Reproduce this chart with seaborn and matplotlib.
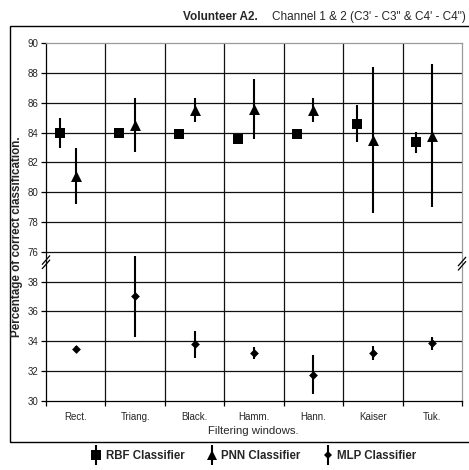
import numpy as np
import pandas as pd
import matplotlib
matplotlib.use("Agg")
import matplotlib.pyplot as plt
from matplotlib.lines import Line2D
from matplotlib.patches import Rectangle
from matplotlib.legend_handler import HandlerTuple
import seaborn as sns

# Classification accuracy (%) per filtering window, mean and half-width of the bar
windows = ["Rect.", "Triang.", "Black.", "Hamm.", "Hann.", "Kaiser", "Tuk."]
rbf_mean = [84.0, 84.0, 83.9, 83.6, 83.9, 84.6, 83.35]
rbf_err = [1.0, 0.2, 0.2, 0.2, 0.2, 1.25, 0.7]
pnn_mean = [81.1, 84.5, 85.5, 85.6, 85.5, 83.5, 83.8]
pnn_err = [1.9, 1.8, 0.8, 2.0, 0.8, 4.9, 4.8]
mlp_mean = [33.5, 37.0, 33.8, 33.2, 31.75, 33.2, 33.85]
mlp_err = [0.2, 2.7, 0.9, 0.4, 1.3, 0.5, 0.43]

y_tick_values = [30, 32, 34, 36, 38, 76, 78, 80, 82, 84, 86, 88, 90]

# Broken axis: the 76-90 band is shifted down so that 76 sits one step above 38
SHIFT = 36.0


def axis_pos(v):
    v = np.asarray(v, dtype=float)
    return np.where(v > 60, v - SHIFT, v)


W, H = 469, 470
sns.set_style("white")
plt.rcParams["font.family"] = ["Liberation Sans", "DejaVu Sans"]

fig = plt.figure(figsize=(W / 100, H / 100), dpi=100)


def fx(px):
    return px / W


def fy(py):
    return 1 - py / H


ax = fig.add_axes([fx(46), fy(400.7), fx(462) - fx(46), (400.7 - 43.3) / H])

x = np.arange(len(windows), dtype=float)
rbf_offset = -0.27

series = [
    ("RBF", x + rbf_offset, rbf_mean, rbf_err, "s", 44),
    ("PNN", x, pnn_mean, pnn_err, "^", 62),
    ("MLP", x, mlp_mean, mlp_err, "D", 20),
]

for name, xs, mean, err, marker, size in series:
    mean = np.asarray(mean)
    err = np.asarray(err)
    lo = axis_pos(mean - err)
    hi = axis_pos(mean + err)
    ax.vlines(xs, lo, hi, color="black", linewidth=1.5, zorder=3)
    df = pd.DataFrame({"x": xs, "y": axis_pos(mean), "classifier": name})
    sns.scatterplot(data=df, x="x", y="y", marker=marker, s=size, color="black",
                    edgecolor="black", linewidth=0, ax=ax, zorder=4, legend=False)

ax.set_xlim(-0.5, len(windows) - 0.5)
ax.set_ylim(30, 54)

# y ticks and horizontal grid
ax.set_yticks(axis_pos(y_tick_values))
ax.set_yticklabels([str(v) for v in y_tick_values])
for yv in axis_pos(y_tick_values)[1:-1]:
    ax.axhline(yv, color="#111111", linewidth=0.9, zorder=1)

# x ticks at category boundaries, labels at category centres
bounds = np.arange(-0.5, len(windows), 1.0)
ax.set_xticks(bounds)
ax.set_xticklabels([])
ax.set_xticks(x, minor=True)
ax.set_xticklabels(windows, minor=True)
for bx in bounds[1:-1]:
    ax.axvline(bx, color="#111111", linewidth=0.9, zorder=1)

ax.tick_params(axis="both", which="major", direction="out", length=3.5, width=0.9,
               color="black", labelsize=7, pad=2, left=True, bottom=True)
ax.tick_params(axis="x", which="minor", length=0, labelsize=7, pad=8)
ax.set_xlabel("")
ax.set_ylabel("")

for side in ["left", "bottom"]:
    ax.spines[side].set_color("black")
    ax.spines[side].set_linewidth(0.9)
for side in ["top", "right"]:
    ax.spines[side].set_color("#9a9a9a")
    ax.spines[side].set_linewidth(0.9)

# break marks on both vertical axes
for xa, ya in [(0.0, 39.3), (1.0, 39.2)]:
    ax_x, ax_y = xa, (ya - 30) / 24
    for dy in (-0.006, 0.006):
        ax.plot([ax_x - 0.009, ax_x + 0.009], [ax_y + dy - 0.012, ax_y + dy + 0.012],
                transform=ax.transAxes, color="black", linewidth=0.9,
                clip_on=False, zorder=5)

# outer chart frame
fig.patches.append(Rectangle((fx(9.5), fy(441.5)), fx(480) - fx(9.5), (441.5 - 26) / H,
                             transform=fig.transFigure, fill=False,
                             edgecolor="black", linewidth=1.0))

# titles and axis labels
fig.text(fx(183), fy(20), "Volunteer A2.", fontsize=8.5, fontweight="bold",
         ha="left", va="baseline")
fig.text(fx(272), fy(20), "Channel 1 & 2 (C3' - C3\" & C4' - C4\")", fontsize=8.5,
         ha="left", va="baseline")
fig.text(fx(17.5), fy(237), "Percentage of correct classification.", fontsize=8.4,
         fontweight="bold", rotation=90, ha="center", va="center")
fig.text(fx(253.5), fy(431), "Filtering windows.", fontsize=8.2, ha="center",
         va="center")

# legend: marker with a vertical bar through it
def handle(marker, ms):
    bar = Line2D([], [], marker="|", markersize=14, markeredgewidth=1.5,
                 color="black", linestyle="none")
    mk = Line2D([], [], marker=marker, markersize=ms, color="black",
                markeredgewidth=0, linestyle="none")
    return (bar, mk)


handles = [handle("s", 6.5), handle("^", 7.8), handle("D", 4.4)]
labels = ["RBF Classifier", "PNN Classifier", "MLP Classifier"]
fig.legend(handles, labels, handler_map={tuple: HandlerTuple(ndivide=1, pad=0)},
           loc="center", bbox_to_anchor=(fx(254), fy(456)), ncol=3, frameon=False,
           prop={"weight": "bold", "size": 8.3}, handlelength=0.8,
           handletextpad=0.4, columnspacing=2.0, borderpad=0)

fig.savefig("out.png", dpi=100)
